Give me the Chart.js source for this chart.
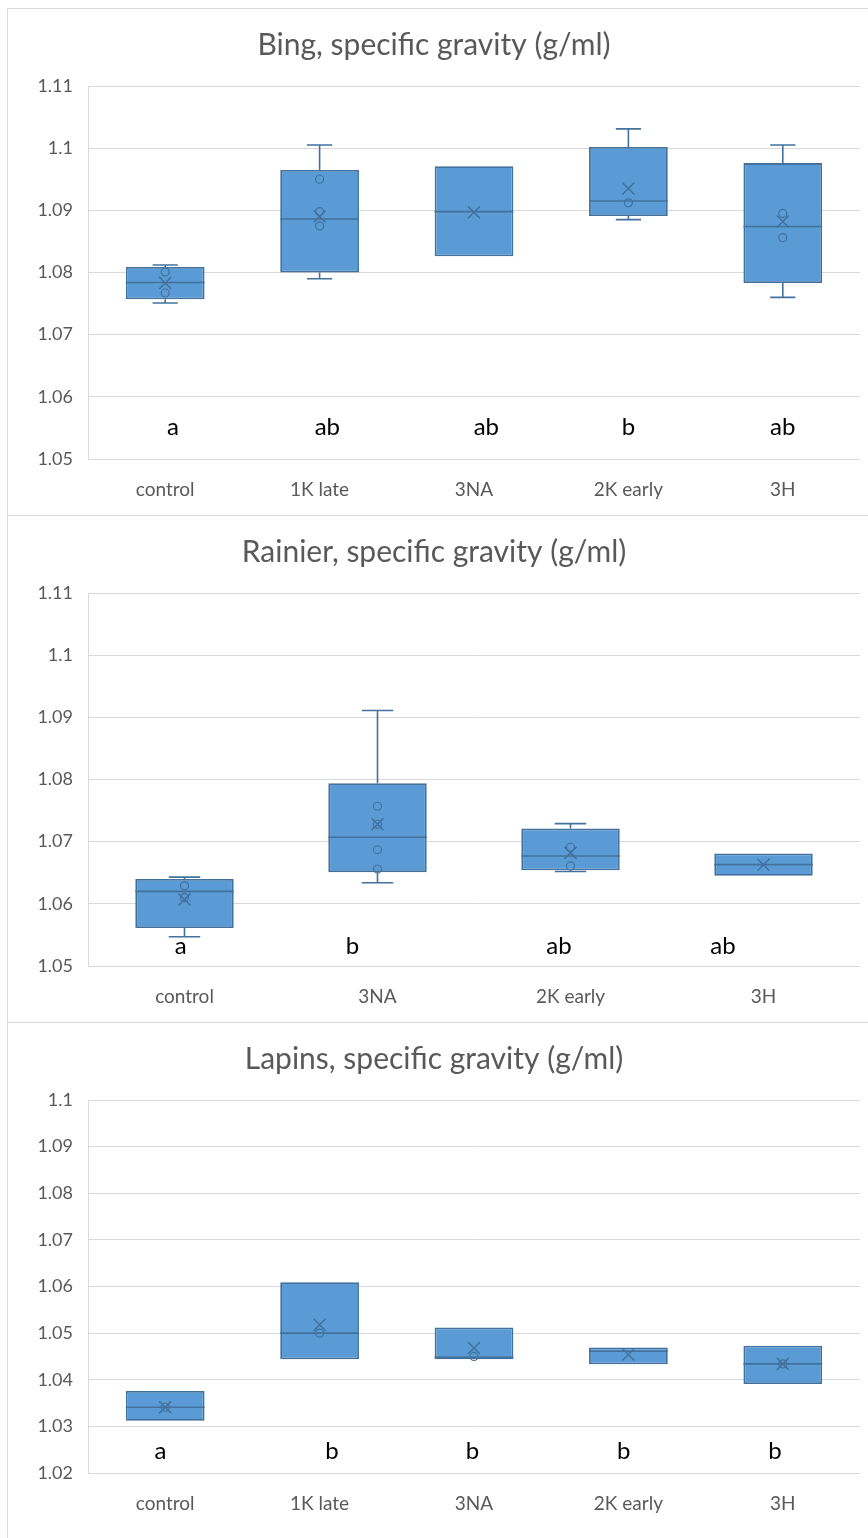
<!DOCTYPE html>
<html>
<head>
<meta charset="utf-8">
<script src="https://cdn.jsdelivr.net/npm/chart.js@4.4.1/dist/chart.umd.min.js"></script>
<style>
  html, body { margin: 0; padding: 0; background: #fff; overflow: hidden; }
  body { width: 868px; height: 1538px; position: relative; }
  .panel { position: absolute; left: 7px; width: 870px; border: 1px solid #d9d9d9; box-sizing: border-box; background: #fff; }
</style>
</head>
<body>
<div class="panel" style="top:8px;height:508px"><canvas id="bingChart"></canvas></div>
<div class="panel" style="top:515px;height:508px"><canvas id="rainierChart"></canvas></div>
<div class="panel" style="top:1022px;height:520px"><canvas id="lapinsChart"></canvas></div>
<script>
// Bing
const bingCategories = ['control', '1K late', '3NA', '2K early', '3H'];
const bingMin = [1.0751, 1.0790, 1.0826, 1.0885, 1.0760];
const bingQ1 = [1.0757, 1.0800, 1.0826, 1.0891, 1.0783];
const bingMedian = [1.0784, 1.0886, 1.0898, 1.0915, 1.0874];
const bingQ3 = [1.0809, 1.0965, 1.0971, 1.1002, 1.0976];
const bingMax = [1.0812, 1.1005, 1.0971, 1.1031, 1.1005];
const bingMean = [1.0783, 1.0890, 1.0897, 1.0935, 1.0882];
const bingPoints = [[1.0801, 1.0767], [1.0950, 1.0898, 1.0875], [], [1.0912], [1.0895, 1.0856]];
const bingLetters = ['a', 'ab', 'ab', 'b', 'ab'];

// Rainier
const rainierCategories = ['control', '3NA', '2K early', '3H'];
const rainierMin = [1.0547, 1.0634, 1.0652, 1.0645];
const rainierQ1 = [1.0561, 1.0651, 1.0654, 1.0645];
const rainierMedian = [1.0620, 1.0707, 1.0677, 1.0663];
const rainierQ3 = [1.0640, 1.0794, 1.0721, 1.0681];
const rainierMax = [1.0643, 1.0911, 1.0729, 1.0681];
const rainierMean = [1.0607, 1.0728, 1.0682, 1.0663];
const rainierPoints = [[1.0629, 1.0610], [1.0757, 1.0728, 1.0687, 1.0656], [1.0691, 1.0661], []];
const rainierLetters = ['a', 'b', 'ab', 'ab'];

// Lapins
const lapinsCategories = ['control', '1K late', '3NA', '2K early', '3H'];
const lapinsMin = [1.0312, 1.0444, 1.0444, 1.0433, 1.0391];
const lapinsQ1 = [1.0312, 1.0444, 1.0444, 1.0433, 1.0391];
const lapinsMedian = [1.0341, 1.0500, 1.0448, 1.0461, 1.0434];
const lapinsQ3 = [1.0376, 1.0609, 1.0512, 1.0469, 1.0473];
const lapinsMax = [1.0376, 1.0609, 1.0512, 1.0469, 1.0473];
const lapinsMean = [1.0341, 1.0518, 1.0468, 1.0454, 1.0434];
const lapinsPoints = [[1.0341], [1.0500], [1.0450], [], [1.0434]];
const lapinsLetters = ['a', 'b', 'b', 'b', 'b'];

const FILL = '#5B9BD5';
const EDGE = '#41719C';
const GRID = '#D9D9D9';
const TEXT = '#595959';
const FONT = 'Lato, "Open Sans", sans-serif';

// whiskers, medians and significance letters
const boxExtras = {
  id: 'boxExtras',
  afterDatasetsDraw(chart, args, opts) {
    const ctx = chart.ctx;
    const y = chart.scales.y;
    const x = chart.scales.x;
    const bars = chart.getDatasetMeta(chart.data.datasets.length - 1).data;
    ctx.save();
    ctx.strokeStyle = EDGE;
    ctx.lineWidth = 1.6;
    bars.forEach((bar, i) => {
      const half = bar.width / 2;
      const cap = bar.width * 0.16;
      const q1 = y.getPixelForValue(opts.q1[i]);
      const q3 = y.getPixelForValue(opts.q3[i]);
      const lo = y.getPixelForValue(opts.min[i]);
      const hi = y.getPixelForValue(opts.max[i]);
      const med = y.getPixelForValue(opts.median[i]);
      ctx.beginPath();
      if (opts.max[i] > opts.q3[i]) {
        ctx.moveTo(bar.x, q3); ctx.lineTo(bar.x, hi);
        ctx.moveTo(bar.x - cap, hi); ctx.lineTo(bar.x + cap, hi);
      }
      if (opts.min[i] < opts.q1[i]) {
        ctx.moveTo(bar.x, q1); ctx.lineTo(bar.x, lo);
        ctx.moveTo(bar.x - cap, lo); ctx.lineTo(bar.x + cap, lo);
      }
      ctx.moveTo(bar.x - half, med); ctx.lineTo(bar.x + half, med);
      ctx.stroke();
    });
    ctx.fillStyle = '#000';
    ctx.font = '24px ' + FONT;
    ctx.textAlign = 'center';
    ctx.textBaseline = 'middle';
    opts.letters.forEach((t, i) => {
      ctx.fillText(t, x.getPixelForValue(i + opts.nudge[i]), y.getPixelForValue(opts.letterY));
    });
    ctx.restore();
  }
};

function makeChart(id, p) {
  const pointData = [];
  p.points.forEach((vals, i) => vals.forEach(v => pointData.push({ x: p.categories[i], y: v })));
  return new Chart(document.getElementById(id), {
    type: 'bar',
    data: {
      labels: p.categories,
      datasets: [
        {
          type: 'line',
          data: p.mean,
          showLine: false,
          pointStyle: 'crossRot',
          pointRadius: 8.5,
          borderColor: EDGE,
          borderWidth: 1.5
        },
        {
          type: 'line',
          data: pointData,
          showLine: false,
          pointStyle: 'circle',
          pointRadius: 4,
          backgroundColor: 'rgba(0,0,0,0)',
          borderColor: EDGE,
          borderWidth: 1.2
        },
        {
          data: p.categories.map((c, i) => [p.q1[i], p.q3[i]]),
          backgroundColor: FILL,
          borderColor: EDGE,
          borderWidth: 1.8,
          borderSkipped: false,
          barPercentage: 0.51,
          categoryPercentage: 1
        }
      ]
    },
    options: {
      responsive: true,
      maintainAspectRatio: false,
      animation: false,
      layout: { padding: { left: 0, right: 16, top: 0, bottom: p.padBottom } },
      plugins: {
        legend: { display: false },
        tooltip: { enabled: false },
        title: {
          display: true,
          text: p.title,
          color: TEXT,
          font: { family: FONT, size: 30, weight: 'normal' },
          padding: { top: 18, bottom: 23 }
        },
        boxExtras: {
          q1: p.q1, q3: p.q3, min: p.min, max: p.max, median: p.median,
          letters: p.letters, nudge: p.nudge, letterY: p.letterY
        }
      },
      scales: {
        x: {
          grid: { display: false, drawTicks: false },
          border: { display: false },
          ticks: { color: TEXT, font: { family: FONT, size: 19 }, padding: 19 },
          afterFit(scale) { scale.height = 56; }
        },
        y: {
          min: p.yMin,
          max: p.yMax,
          grid: { color: GRID, lineWidth: 1, drawTicks: false },
          border: { display: true, color: GRID },
          ticks: {
            stepSize: 0.01,
            padding: 15,
            color: TEXT,
            font: { family: FONT, size: 18 },
            callback: v => String(Number(v.toFixed(2)))
          },
          afterFit(scale) { scale.width = 80; }
        }
      }
    },
    plugins: [boxExtras]
  });
}

makeChart('bingChart', {
  title: 'Bing, specific gravity (g/ml)',
  categories: bingCategories, min: bingMin, q1: bingQ1, median: bingMedian, q3: bingQ3, max: bingMax,
  mean: bingMean, points: bingPoints, letters: bingLetters,
  nudge: [0.05, 0.05, 0.08, 0, 0], letterY: 1.0551,
  yMin: 1.05, yMax: 1.11, padBottom: 0
});

makeChart('rainierChart', {
  title: 'Rainier, specific gravity (g/ml)',
  categories: rainierCategories, min: rainierMin, q1: rainierQ1, median: rainierMedian, q3: rainierQ3, max: rainierMax,
  mean: rainierMean, points: rainierPoints, letters: rainierLetters,
  nudge: [-0.02, -0.13, -0.06, -0.21], letterY: 1.0532,
  yMin: 1.05, yMax: 1.11, padBottom: 0
});

makeChart('lapinsChart', {
  title: 'Lapins, specific gravity (g/ml)',
  categories: lapinsCategories, min: lapinsMin, q1: lapinsQ1, median: lapinsMedian, q3: lapinsQ3, max: lapinsMax,
  mean: lapinsMean, points: lapinsPoints, letters: lapinsLetters,
  nudge: [-0.03, 0.08, -0.01, -0.03, -0.05], letterY: 1.0246,
  yMin: 1.02, yMax: 1.1, padBottom: 12
});
</script>
</body>
</html>
